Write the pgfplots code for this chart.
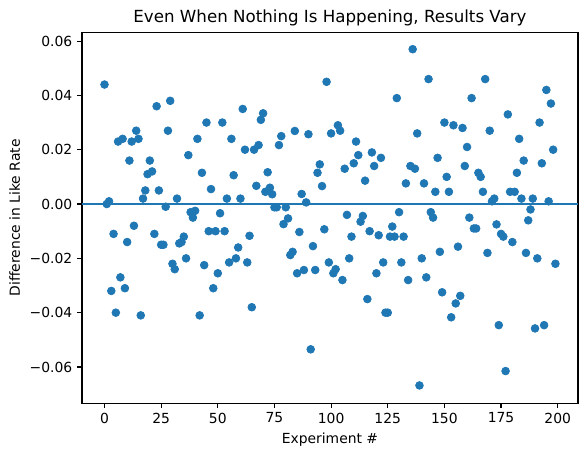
\documentclass[border=0pt]{standalone}
\usepackage{fontspec}
\setmainfont{DejaVu Sans}
\usepackage{pgfplots}
\usepackage{pgfplotstable}
\pgfplotsset{compat=1.18}
\definecolor{mplblue}{HTML}{1F77B4}
\pgfplotstableread{
x y
0 0.044
1 0.000
2 0.001
3 -0.032
4 -0.011
5 -0.040
6 0.023
7 -0.027
8 0.024
9 -0.031
10 -0.014
11 0.016
12 0.023
13 -0.008
14 0.027
15 0.024
16 -0.041
17 0.002
18 0.005
19 0.011
20 0.016
21 0.012
22 -0.011
23 0.036
24 0.005
25 -0.015
26 -0.015
27 -0.001
28 0.027
29 0.038
30 -0.022
31 -0.024
32 0.002
33 -0.0145
34 -0.014
35 -0.012
36 -0.020
37 0.018
38 -0.003
39 -0.005
40 -0.0025
41 0.024
42 -0.041
43 0.0115
44 -0.0225
45 0.030
46 -0.010
47 0.0055
48 -0.031
49 -0.010
50 -0.0255
51 -0.0034
52 0.030
53 -0.010
54 0.002
55 -0.0215
56 0.024
57 0.0106
58 -0.020
59 -0.016
60 0.002
61 0.035
62 0.020
63 -0.0215
64 -0.0117
65 -0.038
66 0.020
67 0.0067
68 0.0217
69 0.031
70 0.0334
71 0.0045
72 0.0117
73 0.006
74 0.0036
75 -0.0012
76 -0.0012
77 0.0217
78 0.025
79 -0.0074
80 -0.0012
81 -0.0053
82 -0.0188
83 -0.0176
84 0.0269
85 -0.0255
86 -0.0103
87 0.0037
88 -0.0243
89 0.0006
90 0.0257
91 -0.0535
92 -0.0155
93 -0.0243
94 0.0115
95 0.0146
96 0.0066
97 -0.0093
98 0.045
99 -0.0215
100 0.026
101 -0.0255
102 -0.024
103 0.029
104 0.027
105 -0.028
106 0.013
107 -0.004
108 -0.020
109 -0.012
110 0.015
111 0.023
112 0.018
113 -0.0065
114 -0.0044
115 0.0086
116 -0.035
117 -0.010
118 0.019
119 0.014
120 -0.0255
121 -0.0115
122 0.017
123 -0.0215
124 -0.040
125 -0.040
126 -0.012
127 -0.0083
128 -0.012
129 0.039
130 -0.003
131 -0.0215
132 -0.012
133 0.0076
134 -0.028
135 0.014
136 0.057
137 0.013
138 0.026
139 -0.0668
140 -0.020
141 0.0076
142 -0.027
143 0.046
144 -0.003
145 -0.005
146 0.0045
147 0.017
148 -0.0176
149 -0.0325
150 0.030
151 0.010
152 0.0045
153 -0.0417
154 0.029
155 -0.0366
156 -0.0157
157 -0.0338
158 0.028
159 0.014
160 0.021
161 -0.005
162 0.039
163 -0.009
164 -0.009
165 0.0115
166 0.010
167 0.0045
168 0.046
169 -0.018
170 0.027
171 0.001
172 0.002
173 -0.0075
174 -0.0446
175 -0.011
176 -0.012
177 -0.0615
178 0.033
179 0.0045
180 -0.014
181 0.0045
182 0.0115
183 0.024
184 0.002
185 0.016
186 -0.018
187 -0.006
188 -0.002
189 0.002
190 -0.0458
191 -0.020
192 0.030
193 0.015
194 -0.0446
195 0.042
196 0.001
197 0.037
198 0.020
199 -0.022
}\datatable
\begin{document}
\begin{tikzpicture}
\begin{axis}[
  at={(59pt,37.4pt)}, anchor=south west,
  scale only axis, width=357.1pt, height=266.7pt,
  xmin=-9.95, xmax=208.95, ymin=-0.0733, ymax=0.0631,
  xtick={0,25,50,75,100,125,150,175,200},
  ytick={-0.06,-0.04,-0.02,0,0.02,0.04,0.06},
  yticklabels={−0.06,−0.04,−0.02,0.00,0.02,0.04,0.06},
  scaled y ticks=false,
  /pgf/number format/assume math mode=true,
  tick align=outside, major tick length=3.5pt,
  every tick/.style={black, line width=0.8pt},
  axis line style={line width=0.8pt},
  tick label style={font=\fontsize{10}{12}\selectfont},
  xtick pos=bottom, ytick pos=left,
  title={Even When Nothing Is Happening, Results Vary},
  title style={font=\fontsize{12}{14}\selectfont, yshift=-5pt},
  xlabel={Experiment \#}, ylabel={Difference in Like Rate},
  label style={font=\fontsize{10}{12}\selectfont},
  clip=true,
]
\addplot[only marks, color=mplblue, mark=*, mark size=2.8pt, mark options={solid, draw=mplblue, fill=mplblue, line width=0.5pt}] table[x=x,y=y] {\datatable};
\addplot[mplblue, line width=1.5pt, forget plot] coordinates {(-9.95,0) (208.95,0)};
\end{axis}
\pgfresetboundingbox
\path (0,0) rectangle (422.6pt,327.6pt);
\end{tikzpicture}
\end{document}
